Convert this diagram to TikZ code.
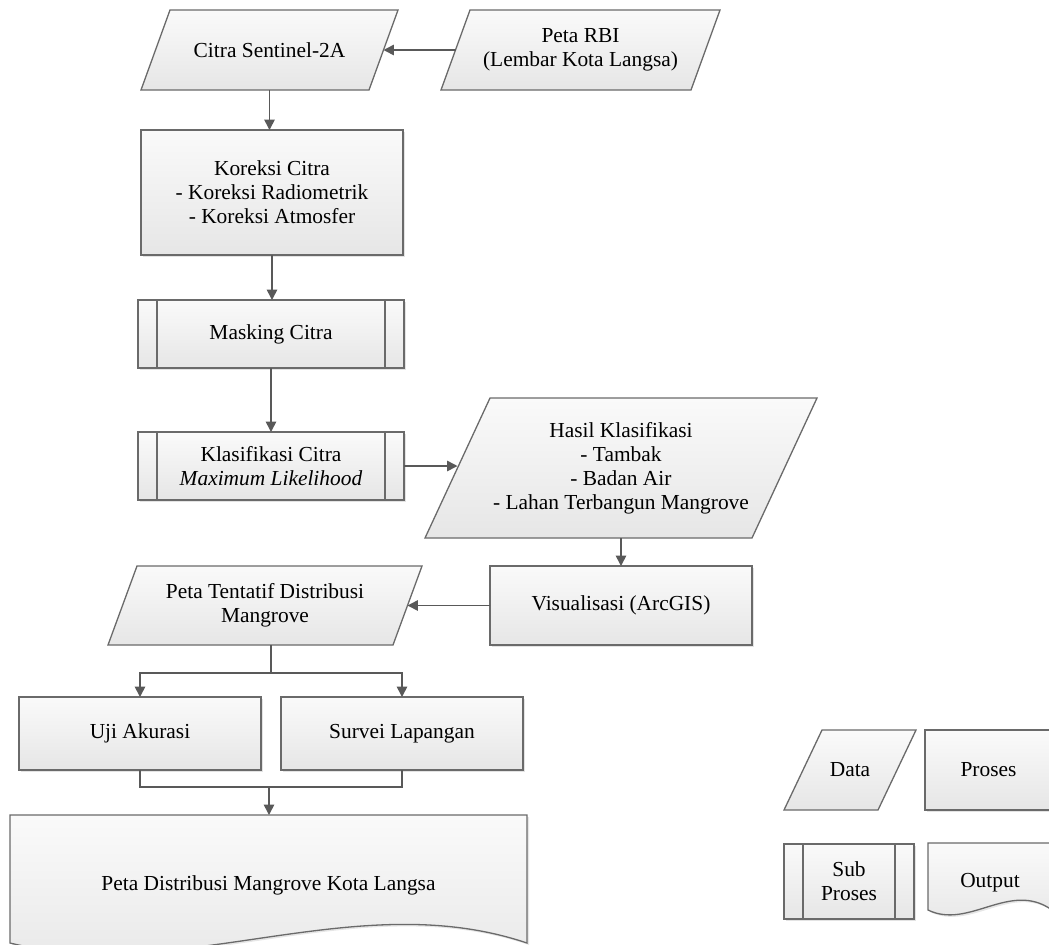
\documentclass[tikz,border=0pt]{standalone}
\usepackage{fontspec}
\setmainfont{Liberation Serif}
\usetikzlibrary{arrows.meta,shadows,backgrounds}
\definecolor{edge}{HTML}{6A6A6A}
\definecolor{conn}{HTML}{595959}
\definecolor{filltop}{HTML}{FAFAFA}
\definecolor{fillbot}{HTML}{E6E6E6}
\newcommand\parashape[2]{%
  \path[shapefill] ([xshift=#2]#1.north west) -- ([xshift=#2]#1.north east)
    -- ([xshift=-#2]#1.south east) -- ([xshift=-#2]#1.south west) -- cycle;}
\newcommand\subbars[1]{%
  \draw[draw=edge,line width=0.65pt] ([xshift=9.5pt]#1.north west) -- ([xshift=9.5pt]#1.south west);
  \draw[draw=edge,line width=0.65pt] ([xshift=-9.5pt]#1.north east) -- ([xshift=-9.5pt]#1.south east);}
\begin{document}
\begin{tikzpicture}[x=0.5pt,y=-0.5pt,
  every node/.style={font=\fontsize{10.7pt}{12pt}\selectfont, align=center, inner sep=0pt, outer sep=0pt},
  procbox/.style={draw=edge, line width=0.65pt, top color=filltop, bottom color=fillbot,
    drop shadow={shadow xshift=1pt,shadow yshift=-1pt,opacity=0.22}},
  shapefill/.style={draw=edge, line width=0.65pt, top color=filltop, bottom color=fillbot},
  arr/.style={draw=conn, line width=0.8pt, -{Triangle[width=5.2pt,length=5.2pt]}},
  link/.style={draw=conn, line width=0.8pt}]
\useasboundingbox (0,0) rectangle (1049,944);
\begin{scope}
\clip (0,0) rectangle (1049,944);
% data (parallelogram) nodes: text only, shapes drawn on background
\node[minimum width=114pt, minimum height=40pt] (cs) at (269.5,50) {Citra Sentinel-2A};
\node[minimum width=125pt, minimum height=40pt] (rbi) at (580.5,50) {Peta RBI\\(Lembar Kota Langsa)};
\node[minimum width=163.5pt, minimum height=70pt] (hasil) at (621,468) {Hasil Klasifikasi\\- Tambak\\- Badan Air\\- Lahan Terbangun Mangrove};
\node[minimum width=142.5pt, minimum height=39.5pt] (tent) at (265,605.5) {Peta Tentatif Distribusi\\Mangrove};
% process nodes
\node[procbox, minimum width=131pt, minimum height=62.5pt] (kor) at (272,192.5) {Koreksi Citra\\- Koreksi Radiometrik\\- Koreksi Atmosfer};
\node[procbox, minimum width=133pt, minimum height=34pt] (mask) at (271,334) {Masking Citra};
\node[procbox, minimum width=133pt, minimum height=34pt] (kla) at (271,466) {Klasifikasi Citra\\\textit{Maximum Likelihood}};
\node[procbox, minimum width=131pt, minimum height=39.5pt] (vis) at (621,605.5) {Visualisasi (ArcGIS)};
\node[procbox, minimum width=121pt, minimum height=36.5pt] (uji) at (140,733.5) {Uji Akurasi};
\node[procbox, minimum width=121pt, minimum height=36.5pt] (sur) at (402,733.5) {Survei Lapangan};
\node[minimum width=258.5pt, minimum height=70pt] (out) at (268.5,885) {Peta Distribusi Mangrove Kota Langsa};
% legend
\node[minimum width=47pt, minimum height=40pt] (ldata) at (850,770) {Data};
\node[procbox, minimum width=63.5pt, minimum height=40pt] (lproc) at (988.5,770) {Proses};
\node[procbox, minimum width=65pt, minimum height=37.5pt] (lsub) at (849,881.5) {Sub\\Proses};
\node[minimum width=62pt, minimum height=40pt] (lout) at (990,883) {Output};
\subbars{mask}
\subbars{kla}
\subbars{lsub}
% connectors
\draw[arr] (rbi) -- (cs);
\draw[arr] (cs.south) -- (cs.south |- kor.north);
\draw[arr] (kor.south) -- (kor.south |- mask.north);
\draw[arr] (mask.south) -- (mask.south |- kla.north);
\draw[arr] (kla.east) -- (kla.east -| hasil.west);
\draw[arr] (hasil.south) -- (vis.north);
\draw[arr] (vis) -- (tent);
\coordinate (split) at (271,673);
\draw[link] (split |- tent.south) -- (split);
\draw[arr] (split) -| (uji.north);
\draw[arr] (split) -| (sur.north);
\coordinate (merge) at (269,787);
\draw[link] (uji.south) |- (merge);
\draw[link] (sur.south) |- (merge);
\draw[arr] (merge) -- (merge |- out.north);
\end{scope}
\begin{scope}[on background layer]
\clip (0,0) rectangle (1049,944);
\parashape{cs}{7.25pt}
\parashape{rbi}{7.25pt}
\parashape{hasil}{16.25pt}
\parashape{tent}{7.25pt}
\parashape{ldata}{9.5pt}
\path[shapefill, drop shadow={shadow xshift=1pt,shadow yshift=-1pt,opacity=0.2}]
  (out.north west) -- (out.north east) -- (527,943)
  .. controls (355,885) and (182,985) .. (10,943) -- cycle;
\path[shapefill, drop shadow={shadow xshift=1pt,shadow yshift=-1pt,opacity=0.2}]
  (lout.north west) -- (lout.north east) -- (1052,910)
  .. controls (1010,880) and (969,930) .. (928,910) -- cycle;
\end{scope}
\end{tikzpicture}
\end{document}
